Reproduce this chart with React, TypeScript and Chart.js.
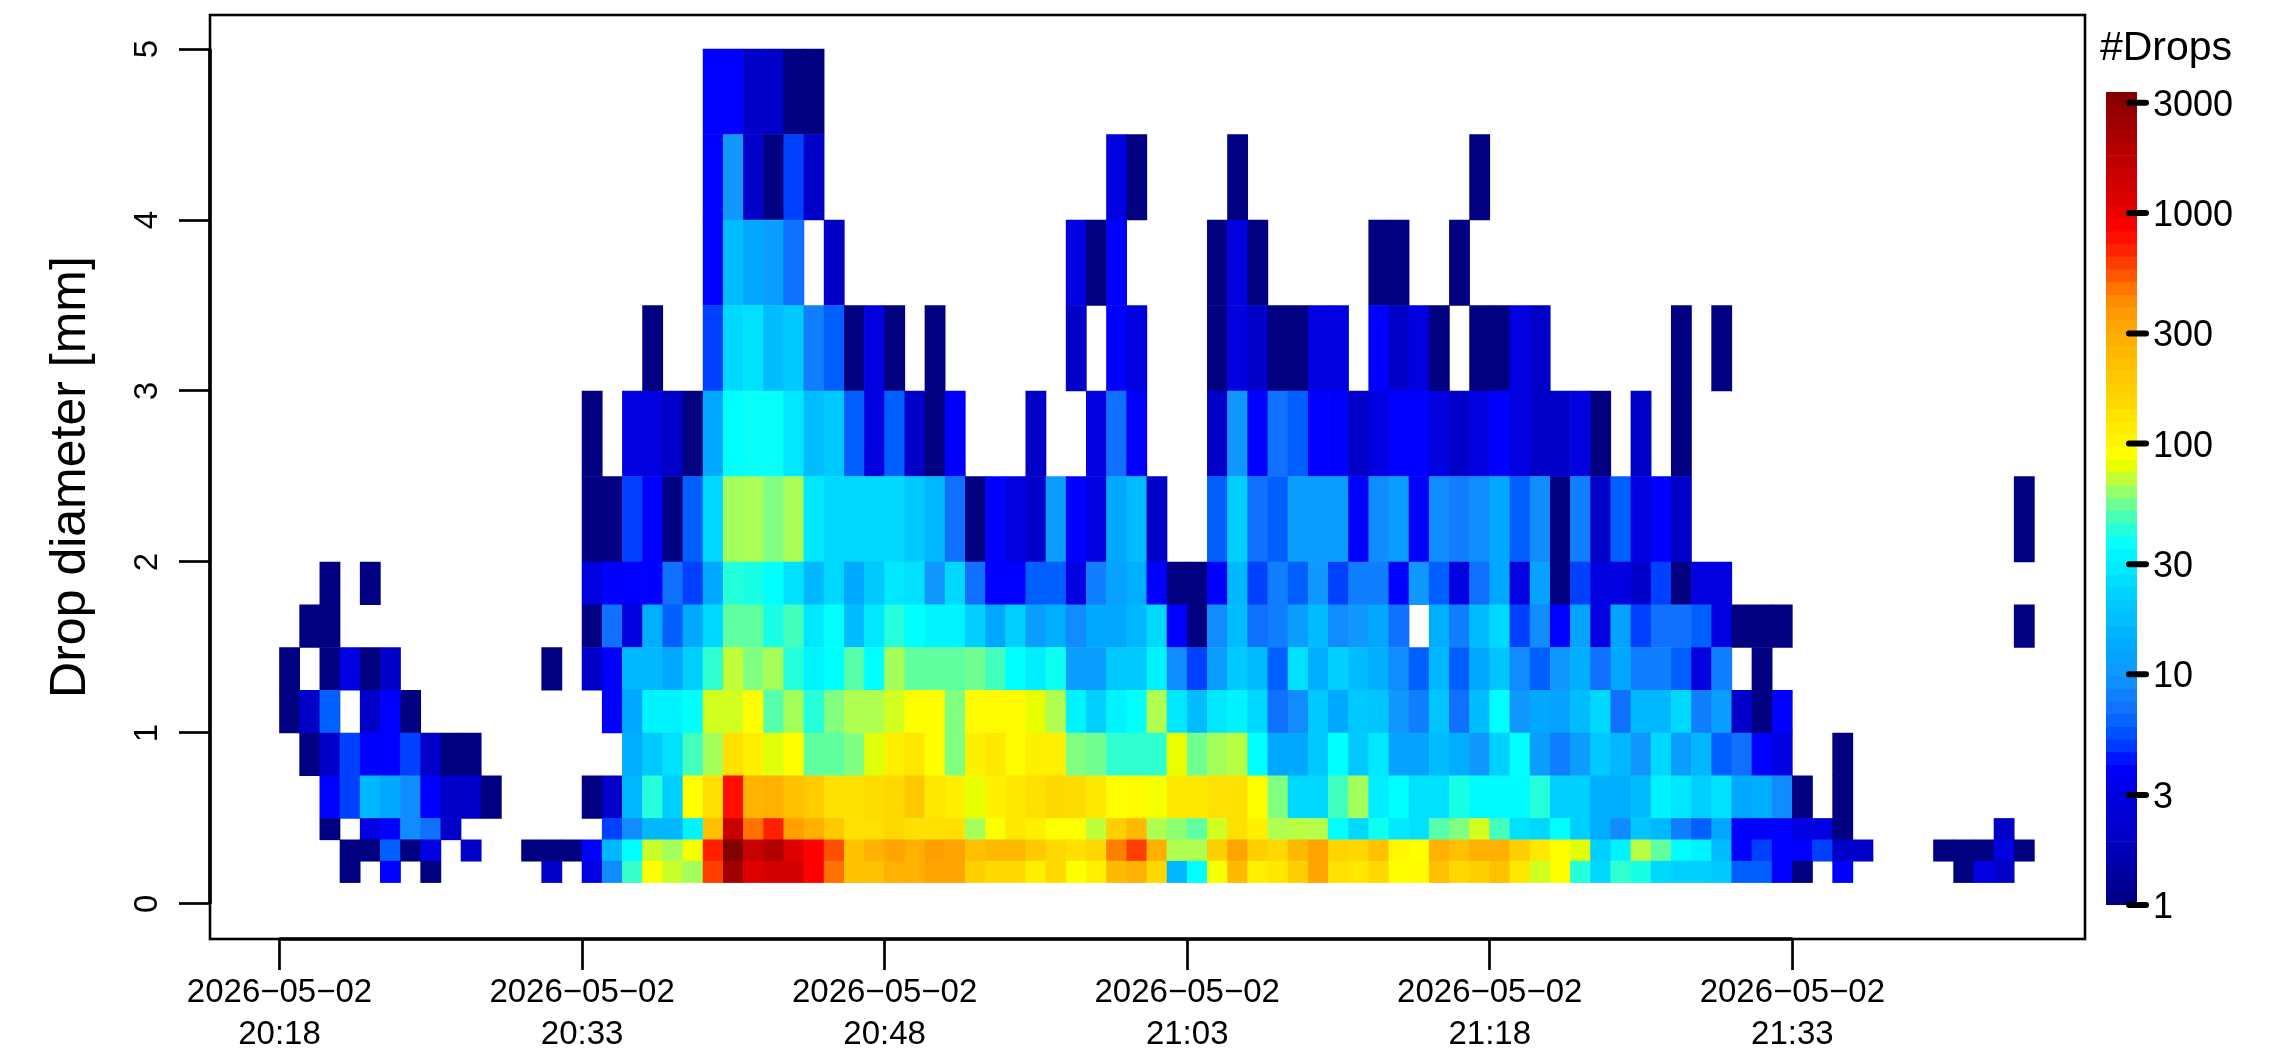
import React, { useEffect, useRef } from "react";
import { Chart, registerables } from "chart.js";

Chart.register(...registerables);

// Diameter bin edges [mm], bottom to top (16 edges = 15 rows)
const diameterEdges = [0.125, 0.25, 0.375, 0.5, 0.75, 1, 1.25, 1.5, 1.75, 2, 2.5, 3, 3.5, 4, 4.5, 5];

// Drop counts per minute (87 columns), 0 = no drops
const row01 = [0,0,0,1,0,4,0,1,0,0, 0,0,0,2,0,3,9,45,90,72, 64,600,2400,1100,1300,1300,850,480,220,220, 280,280,330,330,170,150,150,110,150,90, 110,240,280,150,16,36,85,240,110,125, 170,330,140,125,150,90,95,220,150,170, 220,125,74,90,42,24,44,40,24,22, 22,20,6,6,4,1,0,4,0,0, 0,0,0,1,3,2,0];
const row02 = [0,0,0,1,1,6,1,3,0,2, 0,0,1,1,1,4,16,36,72,64, 85,700,3300,1500,2000,1100,850,550,220,280, 330,280,350,330,220,240,240,190,150,140, 150,450,600,280,66,66,170,330,170,150, 240,330,160,150,220,100,90,280,220,280, 280,170,125,90,78,22,32,68,52,36, 32,17,4,5,4,4,5,2,2,0, 0,0,1,1,1,3,1];
const row03 = [0,0,1,0,3,4,9,7,2,0, 0,0,0,0,0,0,5,9,16,16, 32,220,1500,480,700,350,280,190,140,140, 150,140,140,140,64,88,125,110,88,90, 70,170,240,66,60,52,74,140,110,66, 68,67,36,24,38,28,26,50,58,74, 47,26,24,36,22,14,9,19,16,8, 6,13,4,4,4,3,3,1,0,0, 0,0,0,0,0,2,0];
const row04 = [0,0,4,5,16,13,9,4,2,2, 1,0,0,0,0,1,2,16,42,22, 90,140,780,260,280,220,180,140,140,145, 150,190,125,110,80,110,125,140,150,145, 125,90,95,85,125,125,140,140,90,58, 24,24,47,64,30,36,26,26,40,34, 34,34,42,22,22,14,14,17,32,28, 22,26,13,14,9,1,0,1,0,0, 0,0,0,0,0,0,0];
const row05 = [0,1,2,5,4,4,5,2,1,1, 0,0,0,0,0,0,0,14,20,26, 47,64,140,110,78,90,52,52,58,78, 110,125,90,58,110,125,95,110,110,58, 55,44,44,44,80,55,64,68,36,13, 13,20,36,20,28,12,12,17,14,10, 22,36,11,8,11,20,16,10,24,11, 16,6,7,4,3,0,0,1,0,0, 0,0,0,0,0,0,0];
const row06 = [1,2,6,0,2,4,1,0,0,0, 0,0,0,0,0,0,4,13,32,32, 36,74,74,90,50,64,42,58,66,66, 74,90,90,58,95,95,95,80,66,32, 22,32,36,66,28,17,28,32,24,7, 9,20,13,20,19,10,8,19,7,17, 36,10,13,12,17,24,7,16,16,24, 8,11,2,1,4,0,0,0,0,0, 0,0,0,0,0,0,0];
const row07 = [1,0,1,3,1,2,0,0,0,0, 0,0,0,1,0,2,4,16,16,13, 22,44,70,58,64,42,32,36,50,36, 64,52,52,52,55,47,36,30,38,11, 11,20,20,32,9,5,11,20,17,6, 26,14,22,17,14,9,6,16,6,13, 19,9,6,10,14,7,13,8,8,6, 3,8,0,1,0,0,0,0,0,0, 0,0,0,0,0,0,0];
const row08 = [0,1,1,0,0,0,0,0,0,0, 0,0,0,0,0,1,7,3,14,6, 13,24,52,52,40,47,28,36,17,28, 42,36,32,32,22,13,22,11,14,9, 13,13,16,24,4,1,9,17,7,8, 11,17,9,10,13,7,0,14,8,17, 24,5,9,4,12,3,12,5,7,7, 6,3,1,1,1,0,0,0,0,0, 0,0,0,0,0,0,1];
const row09 = [0,0,1,0,1,0,0,0,0,0, 0,0,0,0,0,3,4,4,4,7, 5,13,42,40,36,26,16,24,13,20, 28,26,10,24,7,4,4,6,6,3, 8,12,14,4,1,1,4,16,5,8, 6,10,5,8,8,4,10,6,3,7, 13,3,12,1,5,3,3,2,5,1, 3,3,0,0,0,0,0,0,0,0, 0,0,0,0,0,0,0];
const row10 = [0,0,0,0,0,0,0,0,0,0, 0,0,0,0,0,1,1,5,4,1, 6,24,64,65,58,65,28,24,24,24, 24,20,16,7,1,4,3,2,11,4, 3,13,17,2,0,0,6,22,7,6, 11,11,11,4,9,11,4,9,8,9, 13,6,9,1,8,2,6,3,4,2, 0,0,0,0,0,0,0,0,0,0, 0,0,0,0,0,0,1];
const row11 = [0,0,0,0,0,0,0,0,0,0, 0,0,0,0,0,1,0,3,3,2, 1,13,36,37,37,28,17,20,6,3, 6,2,1,4,0,0,0,2,0,0, 3,7,4,0,0,0,2,10,4,7, 6,4,4,2,3,4,4,3,2,3, 4,3,2,2,3,1,0,2,0,1, 0,0,0,0,0,0,0,0,0,0, 0,0,0,0,0,0,0];
const row12 = [0,0,0,0,0,0,0,0,0,0, 0,0,0,0,0,0,0,0,1,0, 0,5,24,26,17,20,8,6,1,3, 1,0,1,0,0,0,0,0,0,2, 0,4,3,0,0,0,1,3,2,1, 1,3,3,0,4,2,3,1,0,1, 1,3,2,0,0,0,0,0,0,1, 0,1,0,0,0,0,0,0,0,0, 0,0,0,0,0,0,0];
const row13 = [0,0,0,0,0,0,0,0,0,0, 0,0,0,0,0,0,0,0,0,0, 0,4,17,13,11,7,0,2,0,0, 0,0,0,0,0,0,0,0,0,3, 1,4,0,0,0,0,1,3,1,0, 0,0,0,0,1,1,0,0,1,0, 0,0,0,0,0,0,0,0,0,0, 0,0,0,0,0,0,0,0,0,0, 0,0,0,0,0,0,0];
const row14 = [0,0,0,0,0,0,0,0,0,0, 0,0,0,0,0,0,0,0,0,0, 0,4,10,2,1,5,2,0,0,0, 0,0,0,0,0,0,0,0,0,0, 0,3,1,0,0,0,0,1,0,0, 0,0,0,0,0,0,0,0,0,1, 0,0,0,0,0,0,0,0,0,0, 0,0,0,0,0,0,0,0,0,0, 0,0,0,0,0,0,0];
const row15 = [0,0,0,0,0,0,0,0,0,0, 0,0,0,0,0,0,0,0,0,0, 0,4,4,2,2,1,1,0,0,0, 0,0,0,0,0,0,0,0,0,0, 0,0,0,0,0,0,0,0,0,0, 0,0,0,0,0,0,0,0,0,0, 0,0,0,0,0,0,0,0,0,0, 0,0,0,0,0,0,0,0,0,0, 0,0,0,0,0,0,0];
const rows = [row01, row02, row03, row04, row05, row06, row07, row08, row09, row10, row11, row12, row13, row14, row15];

// Axis ticks
const xTickMinutes = [0, 15, 30, 45, 60, 75];
const xTickDate = "2026\u221205\u221202";
const xTickTimes = ["20:18", "20:33", "20:48", "21:03", "21:18", "21:33"];
const yTicks = [0, 1, 2, 3, 4, 5];
const legendTicks = [1, 3, 10, 30, 100, 300, 1000, 3000];
const legendMax = 3342;

// Palette: count -> colour
const stopCounts = [1,2,3,4,5,6,7,10,13,16,22,28,36,44,52,58,66,74,80,90,110,125,140,150,170,220,280,350,450,550,700,850,1100,1500,2000,2500,3342];
const stopColors = ["#000080","#0000c8","#0000e0","#0000ff","#0040ff","#0060ff","#1070ff","#1098ff","#00a8ff","#00b8ff","#00d0ff","#00e8ff","#00ffff","#30ffd0","#60ffa0","#80ff80","#b0ff50","#d0ff20","#e8ff00","#ffff00","#fff000","#ffe800","#ffe000","#ffd800","#ffd000","#ffc000","#ffb000","#ffa000","#ff8000","#ff5000","#ff2000","#ff0000","#e00000","#c80000","#b00000","#9c0000","#800000"];

const FONT = "'Liberation Sans', Arial, sans-serif";

function rgb(hex: string) {
  return [1, 3, 5].map((i) => parseInt(hex.slice(i, i + 2), 16));
}

function colorFor(v: number) {
  if (v <= stopCounts[0]) return stopColors[0];
  const n = stopCounts.length;
  if (v >= stopCounts[n - 1]) return stopColors[n - 1];
  let i = 0;
  while (stopCounts[i + 1] < v) i++;
  const t = (Math.log(v) - Math.log(stopCounts[i])) / (Math.log(stopCounts[i + 1]) - Math.log(stopCounts[i]));
  const a = rgb(stopColors[i]);
  const b = rgb(stopColors[i + 1]);
  const c = a.map((x, k) => Math.round(x + (b[k] - x) * t));
  return `rgb(${c[0]},${c[1]},${c[2]})`;
}

const frame = {
  id: "frame",
  afterDraw(chart: any) {
    const { ctx, chartArea: a, scales } = chart;
    ctx.save();
    ctx.strokeStyle = "#000";
    ctx.lineWidth = 2.6;
    ctx.strokeRect(a.left, a.top, a.right - a.left, a.bottom - a.top);
    ctx.lineWidth = 3.6;
    ctx.beginPath();
    ctx.moveTo(scales.x.getPixelForValue(xTickMinutes[0]), a.bottom);
    ctx.lineTo(scales.x.getPixelForValue(xTickMinutes[xTickMinutes.length - 1]), a.bottom);
    ctx.moveTo(a.left, scales.y.getPixelForValue(yTicks[0]));
    ctx.lineTo(a.left, scales.y.getPixelForValue(yTicks[yTicks.length - 1]));
    ctx.stroke();
    ctx.restore();
  },
};

const legendMarks = {
  id: "legendMarks",
  afterDraw(chart: any) {
    const { ctx, chartArea: a, scales } = chart;
    ctx.save();
    ctx.strokeStyle = "#000";
    ctx.lineWidth = 6;
    ctx.lineCap = "round";
    for (const t of legendTicks) {
      const y = scales.y.getPixelForValue(t);
      ctx.beginPath();
      ctx.moveTo(a.right - 8, y);
      ctx.lineTo(a.right + 9, y);
      ctx.stroke();
    }
    ctx.fillStyle = "#000";
    ctx.font = `41px ${FONT}`;
    ctx.textAlign = "center";
    ctx.textBaseline = "alphabetic";
    ctx.fillText("#Drops", a.left + 60, 60);
    ctx.restore();
  },
};

export default function App() {
  const mainRef = useRef<HTMLCanvasElement>(null);
  const legendRef = useRef<HTMLCanvasElement>(null);

  useEffect(() => {
    const datasets = rows.map((values, r) => {
      const points: any[] = [];
      const colors: string[] = [];
      values.forEach((v, c) => {
        if (v > 0) {
          points.push({ x: c + 0.5, y: [diameterEdges[r], diameterEdges[r + 1]] });
          colors.push(colorFor(v));
        }
      });
      return { data: points, backgroundColor: colors, borderWidth: 0, barPercentage: 1, categoryPercentage: 1, grouped: false };
    });

    const main = new Chart(mainRef.current!, {
      type: "bar",
      data: { datasets } as any,
      plugins: [frame],
      options: {
        animation: false,
        responsive: false,
        devicePixelRatio: 1,
        events: [],
        layout: { padding: { left: 0, top: 15, right: 194, bottom: 0 } },
        plugins: { legend: { display: false }, tooltip: { enabled: false }, title: { display: false } },
        scales: {
          x: {
            type: "linear",
            min: -3.446,
            max: 89.51,
            offset: false,
            afterBuildTicks: (s: any) => { s.ticks = xTickMinutes.map((value) => ({ value })); },
            afterFit: (s: any) => { s.height = 111; s.paddingLeft = 0; s.paddingRight = 0; },
            grid: { offset: false, drawOnChartArea: false, drawTicks: true, tickLength: 31, tickWidth: 2.7, tickColor: "#000" },
            border: { display: false },
            ticks: {
              autoSkip: false,
              maxRotation: 0,
              minRotation: 0,
              padding: 2,
              color: "#000",
              font: { family: FONT, size: 33, lineHeight: 1.27 },
              callback: (_v: any, i: number) => [xTickDate, xTickTimes[i]],
            },
          },
          y: {
            type: "linear",
            min: -0.205,
            max: 5.199,
            afterBuildTicks: (s: any) => { s.ticks = yTicks.map((value) => ({ value })); },
            afterFit: (s: any) => { s.width = 210; s.paddingTop = 0; s.paddingBottom = 0; },
            grid: { drawOnChartArea: false, drawTicks: true, tickLength: 31, tickWidth: 2.7, tickColor: "#000" },
            border: { display: false },
            title: { display: true, text: "Drop diameter [mm]", color: "#000", font: { family: FONT, size: 50 }, padding: { top: 41, bottom: 0 } },
            ticks: {
              autoSkip: false,
              minRotation: 90,
              maxRotation: 90,
              crossAlign: "center",
              padding: 22,
              color: "#000",
              font: { family: FONT, size: 33 },
              callback: (v: any) => String(v),
            },
          },
        },
      } as any,
    });

    // Colour-bar levels: one thin floating bar for each palette step
    const levelCount = 64;
    const top = Math.log10(legendMax);
    const levelDatasets = Array.from({ length: levelCount }, (_, i) => {
      const lo = Math.pow(10, (top * i) / levelCount);
      const hi = Math.pow(10, (top * (i + 1)) / levelCount);
      return {
        data: [[lo, hi]],
        backgroundColor: colorFor(Math.sqrt(lo * hi)),
        borderWidth: 0,
        barPercentage: 1,
        categoryPercentage: 1,
        grouped: false,
      };
    });

    const legend = new Chart(legendRef.current!, {
      type: "bar",
      data: { labels: [""], datasets: levelDatasets } as any,
      plugins: [legendMarks],
      options: {
        animation: false,
        responsive: false,
        devicePixelRatio: 1,
        events: [],
        layout: { padding: { left: 16, top: 92, right: 0, bottom: 145 } },
        plugins: { legend: { display: false }, tooltip: { enabled: false } },
        scales: {
          x: { display: false },
          y: {
            type: "logarithmic",
            position: "right",
            min: 1,
            max: legendMax,
            afterBuildTicks: (s: any) => { s.ticks = legendTicks.map((value) => ({ value })); },
            afterFit: (s: any) => { s.width = 142; },
            grid: { drawOnChartArea: false, drawTicks: false },
            border: { display: false },
            ticks: {
              autoSkip: false,
              padding: 16,
              labelOffset: 3,
              color: "#000",
              font: { family: FONT, size: 36 },
              callback: (v: any) => String(v),
            },
          },
        },
      } as any,
    });

    return () => {
      main.destroy();
      legend.destroy();
    };
  }, []);

  return (
    <div style={{ position: "absolute", left: 0, top: 0, width: 2279, height: 1050, background: "#fff", overflow: "hidden" }}>
      <canvas ref={mainRef} width={2279} height={1050} style={{ position: "absolute", left: 0, top: 0 }} />
      <canvas ref={legendRef} width={189} height={1050} style={{ position: "absolute", left: 2090, top: 0 }} />
    </div>
  );
}
